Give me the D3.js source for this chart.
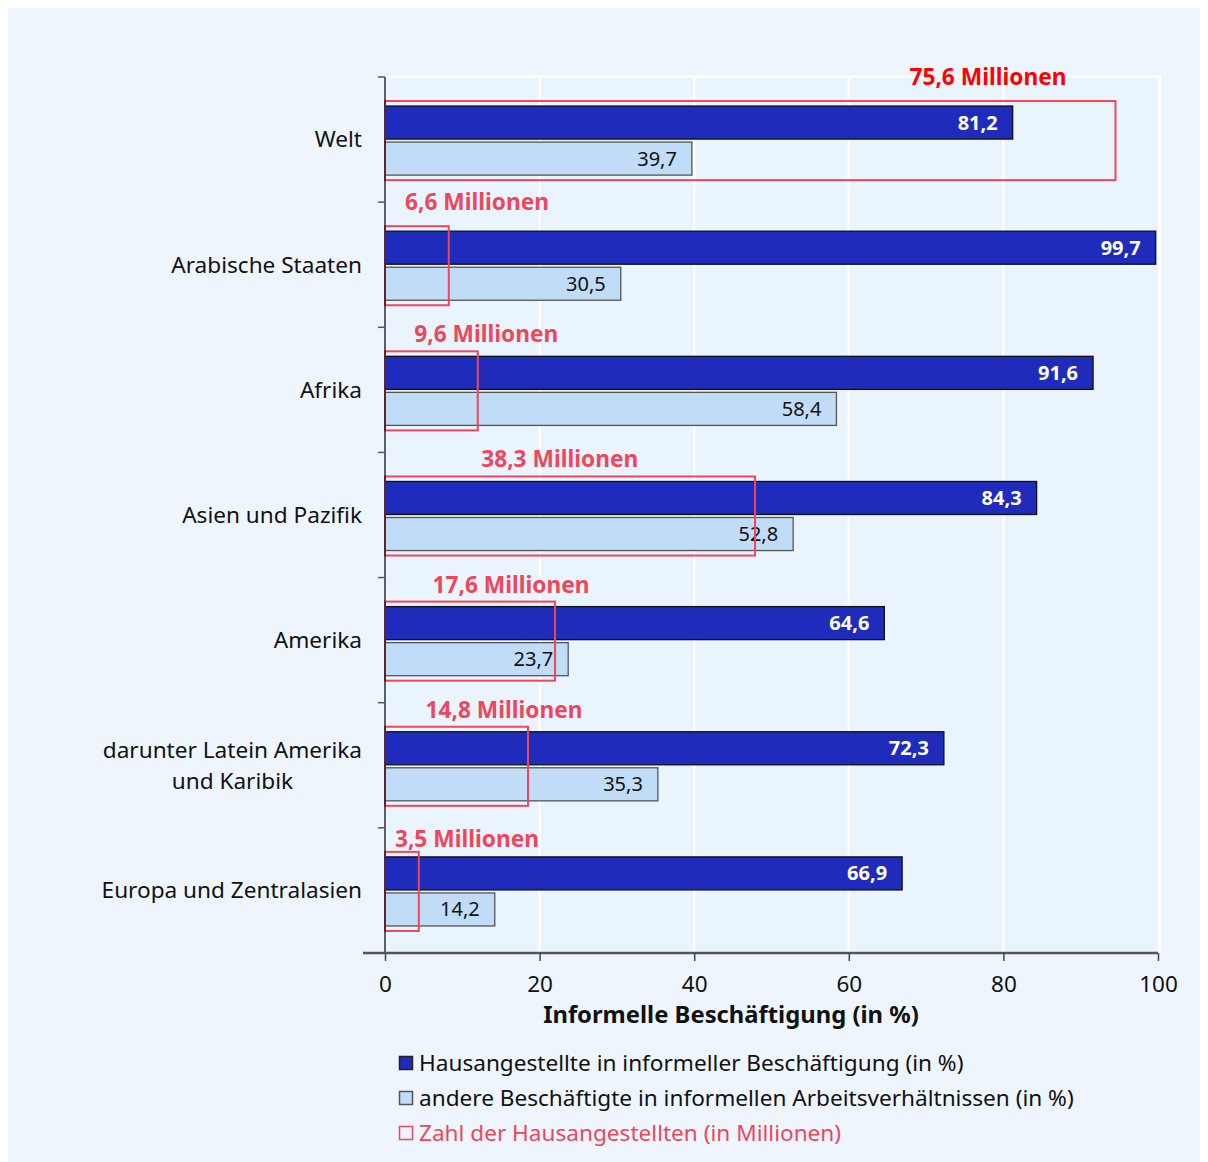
<!DOCTYPE html>
<html>
<head>
<meta charset="utf-8">
<script src="https://cdn.jsdelivr.net/npm/d3@7"></script>
<style>
  html, body { margin: 0; padding: 0; background: #ffffff; }
  svg { display: block; font-family: "Noto Sans", "Open Sans", sans-serif; }
</style>
</head>
<body>
<svg id="chart" width="1208" height="1162"></svg>
<script>
// Regions (top to bottom)
const regions = [
  "Welt",
  "Arabische Staaten",
  "Afrika",
  "Asien und Pazifik",
  "Amerika",
  "darunter Latein Amerika\nund Karibik",
  "Europa und Zentralasien"
];
// Share of domestic workers in informal employment (%)
const domesticInformal = [81.2, 99.7, 91.6, 84.3, 64.6, 72.3, 66.9];
// Share of other employees in informal employment (%)
const otherInformal = [39.7, 30.5, 58.4, 52.8, 23.7, 35.3, 14.2];
// Number of domestic workers (millions)
const domesticMillions = [75.6, 6.6, 9.6, 38.3, 17.6, 14.8, 3.5];
// Millions are shown on the percent axis with this factor (80 million = 100 %)
const millionsToPercent = 1.25;
const xTicks = [0, 20, 40, 60, 80, 100];
const legendLabels = [
  "Hausangestellte in informeller Beschäftigung (in %)",
  "andere Beschäftigte in informellen Arbeitsverhältnissen (in %)",
  "Zahl der Hausangestellten (in Millionen)"
];

// Placement of the "Millionen" annotations: centre on the x axis and vertical offset
const annoCenter = [78.0, 11.9, 13.1, 22.6, 16.3, 15.4, 10.6];
const annoDy = [0, 0, 7, 7, 7, 7, 11];

const fmt = v => d3.format(".1f")(v).replace(".", ",");

const svg = d3.select("#chart");
const W = 1208, H = 1162;
const plot = { left: 385, right: 1158, top: 77, bottom: 953 };

const colDark = "#1f2bbb";
const colLight = "#c0dcf6";
const colRed = "#f0465c";

const fsLabel = 22.6;

// Backgrounds
svg.append("rect").attr("width", W).attr("height", H).attr("fill", "#ffffff");
svg.append("rect").attr("x", 8).attr("y", 8).attr("width", 1192).attr("height", 1154).attr("fill", "#eef5fc");

const x = d3.scaleLinear().domain([0, 100]).range([plot.left, plot.right]);
const y = d3.scaleBand().domain(d3.range(regions.length)).range([plot.top, plot.bottom]);
const inner = d3.scaleBand().domain(["dark", "light"])
  .range([29 / 125 * y.bandwidth(), 98 / 125 * y.bandwidth()]).paddingInner(3 / 36);

// Plot background
svg.append("rect")
  .attr("x", plot.left).attr("y", plot.top)
  .attr("width", x(100) - plot.left + 2).attr("height", plot.bottom - plot.top)
  .attr("fill", "#eaf4fd");
svg.append("path")
  .attr("d", `M${plot.left},${plot.top - 0.5}H${x(100) + 1.5}V${plot.bottom}`)
  .attr("fill", "none").attr("stroke", "#ffffff").attr("stroke-width", 3);

// Grid lines
svg.append("g").selectAll("line").data(xTicks.filter(t => t > 0 && t < 100)).join("line")
  .attr("x1", d => x(d)).attr("x2", d => x(d))
  .attr("y1", plot.top).attr("y2", plot.bottom)
  .attr("stroke", "#ffffff").attr("stroke-width", 2.5);

const rows = svg.append("g").selectAll("g").data(regions).join("g")
  .attr("transform", (d, i) => `translate(0,${y(i)})`);

// Bars
rows.append("rect")
  .attr("x", x(0)).attr("y", inner("dark"))
  .attr("width", (d, i) => x(domesticInformal[i]) - x(0))
  .attr("height", inner.bandwidth())
  .attr("fill", colDark).attr("stroke", "#111111").attr("stroke-width", 1.3);
rows.append("rect")
  .attr("x", x(0)).attr("y", inner("light"))
  .attr("width", (d, i) => x(otherInformal[i]) - x(0))
  .attr("height", inner.bandwidth())
  .attr("fill", colLight).attr("stroke", "#555555").attr("stroke-width", 1.3);

// Value labels
rows.append("text")
  .attr("x", (d, i) => x(domesticInformal[i]) - 15)
  .attr("y", inner("dark") + inner.bandwidth() / 2)
  .attr("dy", "0.35em").attr("text-anchor", "end")
  .attr("fill", "#ffffff").attr("font-weight", "bold").attr("font-size", 20)
  .text((d, i) => fmt(domesticInformal[i]));
rows.append("text")
  .attr("x", (d, i) => x(otherInformal[i]) - 15)
  .attr("y", inner("light") + inner.bandwidth() / 2)
  .attr("dy", "0.35em").attr("text-anchor", "end")
  .attr("fill", "#111111").attr("font-size", 20)
  .text((d, i) => fmt(otherInformal[i]));

// Boxes for the number of domestic workers
rows.append("rect")
  .attr("x", x(0))
  .attr("y", inner("dark") - 5)
  .attr("width", (d, i) => x(domesticMillions[i] * millionsToPercent) - x(0))
  .attr("height", inner("light") + inner.bandwidth() - inner("dark") + 10)
  .attr("fill", "none").attr("stroke", colRed).attr("stroke-width", 2);

rows.append("text")
  .attr("x", (d, i) => x(annoCenter[i]))
  .attr("y", (d, i) => annoDy[i])
  .attr("dy", "0.35em").attr("text-anchor", "middle")
  .attr("fill", (d, i) => i === 0 ? "#ff0000" : colRed)
  .attr("font-weight", "bold").attr("font-size", 22.7)
  .text((d, i) => fmt(domesticMillions[i]) + " Millionen");

// Y axis
const yAxis = svg.append("g");
yAxis.append("line")
  .attr("x1", plot.left).attr("x2", plot.left)
  .attr("y1", plot.top).attr("y2", plot.bottom)
  .attr("stroke", "#111111").attr("stroke-width", 1.3);
yAxis.selectAll("line.tick").data(d3.range(regions.length + 1)).join("line")
  .attr("class", "tick")
  .attr("x1", plot.left - 7).attr("x2", plot.left)
  .attr("y1", i => i < regions.length ? y(i) : plot.bottom)
  .attr("y2", i => i < regions.length ? y(i) : plot.bottom)
  .attr("stroke", "#555555").attr("stroke-width", 1.5);

// Category labels: lines centred on each other, block right aligned
rows.each(function (d, i) {
  const lines = d.split("\n");
  const g = d3.select(this);
  const lh = 31;
  const c = inner("light") - 2.5;
  const t = g.append("text")
    .attr("font-size", fsLabel).attr("fill", "#111111");
  lines.forEach((ln, k) => {
    t.append("tspan").attr("text-anchor", "middle")
      .attr("y", c + (k - (lines.length - 1) / 2) * lh)
      .attr("dy", "0.35em").text(ln);
  });
  const widths = [];
  t.selectAll("tspan").each(function () { widths.push(this.getComputedTextLength()); });
  const maxW = d3.max(widths);
  t.selectAll("tspan").attr("x", 362 - maxW / 2);
});

// X axis
const xAxis = svg.append("g")
  .attr("transform", `translate(0,${plot.bottom})`)
  .call(d3.axisBottom(x).tickValues(xTicks).tickSize(8).tickPadding(15).tickSizeOuter(0));
xAxis.select(".domain")
  .attr("d", `M${plot.left - 22},0H${x(100)}`)
  .attr("stroke", "#555555").attr("stroke-width", 2.5);
xAxis.selectAll(".tick line").attr("stroke", "#444444").attr("stroke-width", 1.5);
xAxis.selectAll(".tick text")
  .attr("font-family", "'Noto Sans', sans-serif")
  .attr("font-size", 22.5).attr("fill", "#111111");

svg.append("text")
  .attr("x", 731).attr("y", 1015)
  .attr("dy", "0.35em").attr("text-anchor", "middle")
  .attr("font-weight", "bold").attr("font-size", 23.8).attr("fill", "#111111")
  .text("Informelle Beschäftigung (in %)");

// Legend
const legend = svg.append("g").attr("transform", "translate(399,1063)");
const legendFill = [colDark, colLight, "none"];
const legendStroke = ["#222222", "#555555", colRed];
const legendText = ["#111111", "#111111", colRed];
const li = legend.selectAll("g").data(legendLabels).join("g")
  .attr("transform", (d, i) => `translate(0,${i * 35})`);
li.append("rect")
  .attr("x", 0.5).attr("y", -6.5).attr("width", 13).attr("height", 13)
  .attr("fill", (d, i) => legendFill[i])
  .attr("stroke", (d, i) => legendStroke[i]).attr("stroke-width", 1.5);
li.append("text")
  .attr("x", 20).attr("dy", "0.35em")
  .attr("font-size", fsLabel)
  .attr("fill", (d, i) => legendText[i])
  .text(d => d);
</script>
</body>
</html>
